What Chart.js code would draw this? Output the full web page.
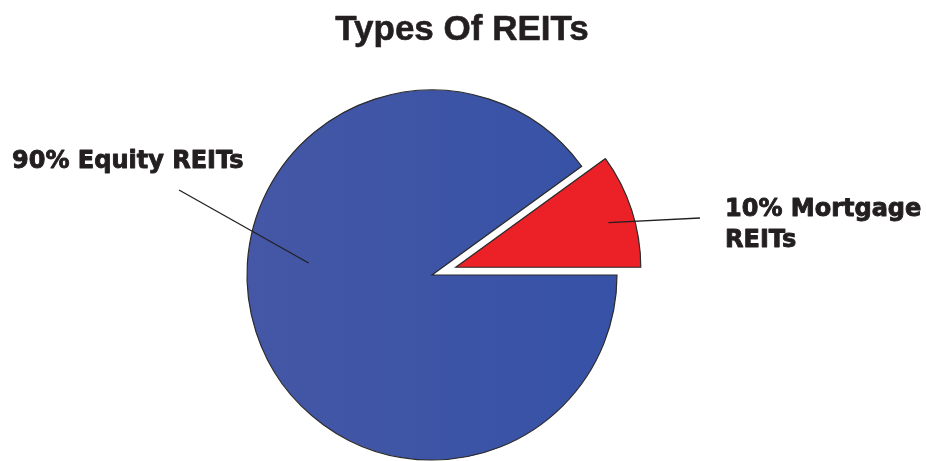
<!DOCTYPE html>
<html>
<head>
<meta charset="utf-8">
<title>Types Of REITs</title>
<script src="https://cdn.jsdelivr.net/npm/chart.js@4.4.1/dist/chart.umd.min.js"></script>
<style>
    html, body { margin: 0; padding: 0; background: #fff; }
    #wrap { width: 926px; height: 461px; }
</style>
</head>
<body>
<div id="wrap"><canvas id="reits-chart" width="926" height="461"></canvas></div>
<script>
// Data kategori dan porsi
const categories = ['Equity REITs', 'Mortgage REITs'];
const shares = [90, 10];
const labelTexts = [['90% Equity REITs'], ['10% Mortgage', 'REITs']];
const sliceColors = ['#3f54a6', '#ec2127'];

const chartTitle = 'Types Of REITs';
const PIE_RADIUS = 185;
const EXPLODE_PX = 25;     // irisan Mortgage ditarik keluar
const EXPLODE_INDEX = 1;

// Gradasi biru dari kiri ke kanan
function sliceFill(context) {
    const chart = context.chart;
    const area = chart.chartArea;
    if (!area || context.dataIndex !== 0) return sliceColors[context.dataIndex];
    const cx = (area.left + area.right) / 2;
    const g = chart.ctx.createLinearGradient(cx - PIE_RADIUS, 0, cx + PIE_RADIUS, 0);
    g.addColorStop(0, '#4557a6');
    g.addColorStop(1, '#3652a6');
    return g;
}

function explodeShift(arc) {
    const mid = (arc.startAngle + arc.endAngle) / 2;
    return { dx: Math.cos(mid) * EXPLODE_PX, dy: Math.sin(mid) * EXPLODE_PX };
}

// Geser irisan tanpa memperbesar radiusnya (offset bawaan ikut membesarkan)
const explodePlugin = {
    id: 'explodeSlice',
    beforeDatasetDraw: function(chart) {
        const arc = chart.getDatasetMeta(0).data[EXPLODE_INDEX];
        if (!arc || arc._shifted) return;
        const origDraw = arc.draw;
        arc.draw = function(ctx, area) {
            const s = explodeShift(this);
            ctx.save();
            ctx.translate(s.dx, s.dy);
            origDraw.call(this, ctx, area);
            ctx.restore();
        };
        arc._shifted = true;
    }
};

function heavyText(ctx, text, x, y) {
    ctx.strokeText(text, x, y);
    ctx.fillText(text, x, y);
}

// Judul dan label dengan garis penunjuk
const labelPlugin = {
    id: 'reitLabels',
    afterDraw: function(chart) {
        const ctx = chart.ctx;
        const meta = chart.getDatasetMeta(0);
        ctx.save();

        ctx.fillStyle = '#231f20';
        ctx.strokeStyle = '#231f20';
        ctx.lineJoin = 'round';
        ctx.textAlign = 'center';
        ctx.textBaseline = 'alphabetic';
        ctx.font = 'bold 35px "Liberation Sans", Arial, sans-serif';
        ctx.lineWidth = 0.6;
        heavyText(ctx, chartTitle, 462, 40);

        ctx.font = 'bold 24px "DejaVu Sans", sans-serif';
        ctx.textAlign = 'left';
        ctx.lineWidth = 0.9;
        heavyText(ctx, labelTexts[0][0], 12, 168);
        labelTexts[1].forEach(function(line, i) {
            heavyText(ctx, line, 725, 216 + i * 31);
        });

        ctx.lineWidth = 1.3;

        // Equity
        const a0 = meta.data[0];
        const ang0 = Math.PI * 1.031;
        const r0 = a0.outerRadius * 0.67;
        ctx.beginPath();
        ctx.moveTo(179, 190);
        ctx.lineTo(a0.x + Math.cos(ang0) * r0, a0.y + Math.sin(ang0) * r0);
        ctx.stroke();

        // Mortgage
        const a1 = meta.data[1];
        const s = explodeShift(a1);
        const ang1 = (a1.startAngle + a1.endAngle) / 2 + 0.03;
        const r1 = a1.outerRadius * 0.86;
        ctx.beginPath();
        ctx.moveTo(700, 218);
        ctx.lineTo(a1.x + s.dx + Math.cos(ang1) * r1, a1.y + s.dy + Math.sin(ang1) * r1);
        ctx.stroke();

        ctx.restore();
    }
};

new Chart(document.getElementById('reits-chart'), {
    type: 'pie',
    data: {
        labels: categories,
        datasets: [{
            data: shares,
            backgroundColor: sliceFill,
            borderColor: '#2b2b2b',
            borderWidth: 1.2,
            borderJoinStyle: 'miter',
            hoverOffset: 0
        }]
    },
    options: {
        responsive: false,
        animation: false,
        events: [],
        rotation: 90,
        radius: PIE_RADIUS,
        layout: { padding: { left: 0, right: 62, top: 89, bottom: 0 } },
        plugins: {
            legend: { display: false },
            title: { display: false },
            tooltip: { enabled: false }
        }
    },
    plugins: [explodePlugin, labelPlugin]
});
</script>
</body>
</html>
